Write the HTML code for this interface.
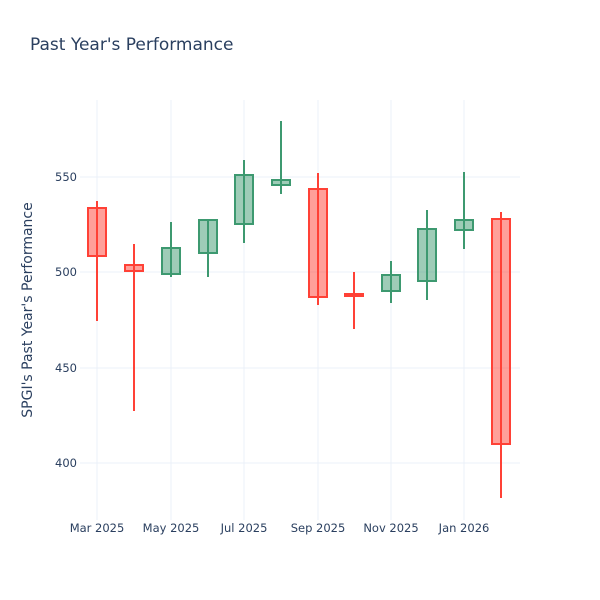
<!DOCTYPE html>
<html><head><style>body{margin:0;background:#fff}svg{display:block}</style></head><body>
<svg width="600" height="600" xmlns="http://www.w3.org/2000/svg" font-family="DejaVu Sans, Liberation Sans, sans-serif">
<rect width="600" height="600" fill="#fff"/>
<text x="30" y="50" font-size="17" fill="#2a3f5f">Past Year's Performance</text>
<g stroke="#ebf0f8" stroke-width="1">
<line x1="97" y1="100" x2="97" y2="520"/><line x1="171" y1="100" x2="171" y2="520"/>
<line x1="244" y1="100" x2="244" y2="520"/><line x1="318" y1="100" x2="318" y2="520"/>
<line x1="391" y1="100" x2="391" y2="520"/><line x1="464" y1="100" x2="464" y2="520"/>
<line x1="80" y1="177" x2="520" y2="177"/><line x1="80" y1="272" x2="520" y2="272"/>
<line x1="80" y1="368" x2="520" y2="368"/><line x1="80" y1="463" x2="520" y2="463"/>
</g>
<g font-size="11.5" fill="#2a3f5f" text-anchor="end">
<text x="77" y="181">550</text><text x="77" y="276">500</text><text x="77" y="372">450</text><text x="77" y="467">400</text>
</g>
<g font-size="11.5" fill="#2a3f5f" text-anchor="middle">
<text x="97" y="532">Mar 2025</text><text x="171" y="532">May 2025</text><text x="244" y="532">Jul 2025</text>
<text x="318" y="532">Sep 2025</text><text x="391" y="532">Nov 2025</text><text x="464" y="532">Jan 2026</text>
</g>
<text transform="translate(32,310) rotate(-90)" font-size="14" fill="#2a3f5f" text-anchor="middle">SPGI's Past Year's Performance</text>
<g stroke-width="2">
<g stroke="#FF4136" fill="rgba(255,65,54,0.5)">
<line x1="97" y1="201" x2="97" y2="321"/><rect x="88" y="208" width="18" height="48"/>
<line x1="134" y1="244" x2="134" y2="411"/><rect x="125" y="265" width="18" height="6"/>
<line x1="318" y1="173" x2="318" y2="305"/><rect x="309" y="189" width="18" height="108"/>
<line x1="354" y1="272" x2="354" y2="329"/><rect x="345" y="294" width="18" height="2"/>
<line x1="501" y1="212" x2="501" y2="498"/><rect x="492" y="219" width="18" height="225"/>
</g>
<g stroke="#3D9970" fill="rgba(61,153,112,0.5)">
<line x1="171" y1="222" x2="171" y2="277"/><rect x="162" y="248" width="18" height="26"/>
<line x1="208" y1="220" x2="208" y2="277"/><rect x="199" y="220" width="18" height="33"/>
<line x1="244" y1="160" x2="244" y2="243"/><rect x="235" y="175" width="18" height="49"/>
<line x1="281" y1="121" x2="281" y2="194"/><rect x="272" y="180" width="18" height="5"/>
<line x1="391" y1="261" x2="391" y2="303"/><rect x="382" y="275" width="18" height="16"/>
<line x1="427" y1="210" x2="427" y2="300"/><rect x="418" y="229" width="18" height="52"/>
<line x1="464" y1="172" x2="464" y2="249"/><rect x="455" y="220" width="18" height="10"/>
</g>
</g>
</svg>
</body></html>
